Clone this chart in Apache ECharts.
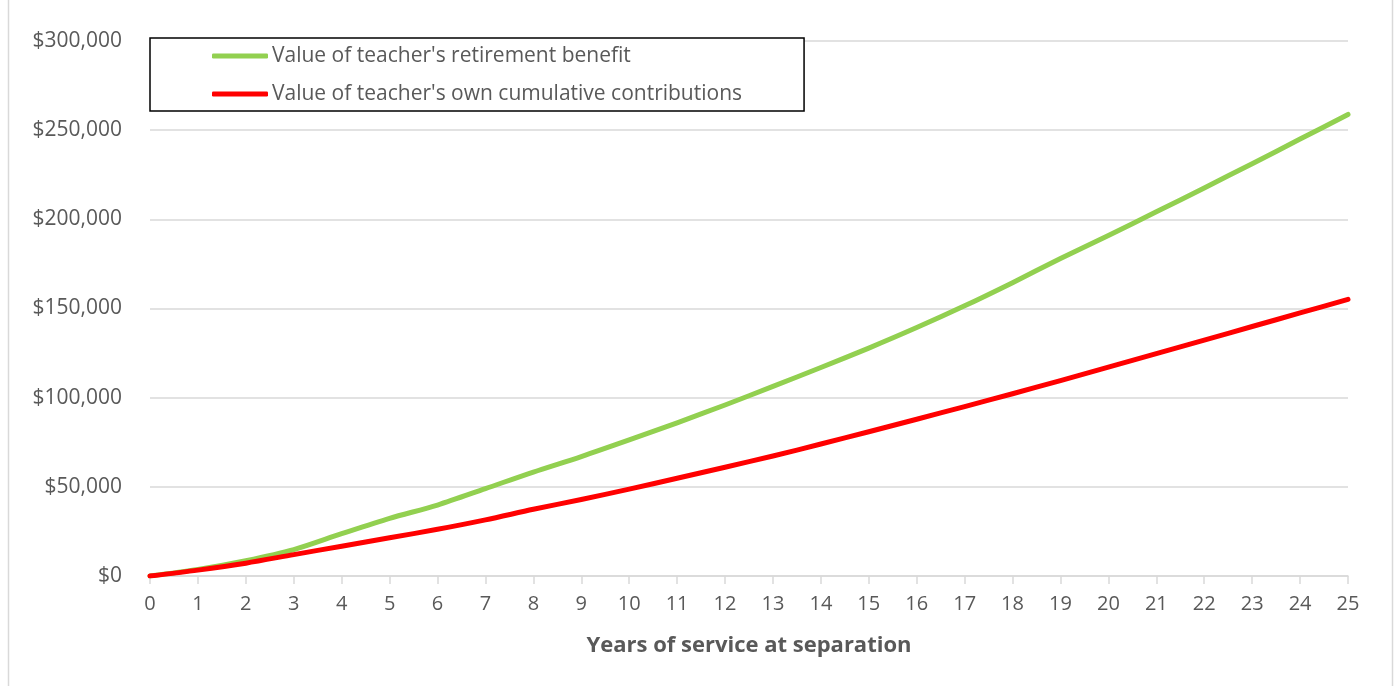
<!DOCTYPE html>
<html>
<head>
    <meta charset="utf-8">
    <title>Teacher retirement benefit</title>
    <script src="https://cdn.jsdelivr.net/npm/echarts@6/dist/echarts.min.js"></script>
    <style>
        html, body { margin: 0; padding: 0; background: #fff; }
    </style>
</head>
<body>
    <div id="container" style="width: 1397px;height:686px;"></div>
    <script type="text/javascript">
        // years of service at separation
        var years = [0, 1, 2, 3, 4, 5, 6, 7, 8, 9, 10, 11, 12, 13, 14, 15, 16, 17, 18, 19, 20, 21, 22, 23, 24, 25];
        // value of retirement benefit (green)
        var benefit = [0, 3700, 8600, 14800, 23700, 32300, 39800, 49000, 58300, 67000, 76300, 85900, 95900,
            106300, 116900, 127800, 139300, 151500, 164500, 178000, 191000, 204200, 217600, 231200, 245000, 258800];
        // value of own cumulative contributions (red)
        var contributions = [0, 3300, 7200, 12000, 16700, 21400, 26200, 31500, 37400, 42900, 48700, 54800, 61000,
            67300, 74000, 80900, 87900, 95000, 102200, 109600, 117100, 124700, 132300, 139900, 147500, 155100];
        var seriesNames = ["Value of teacher's retirement benefit", "Value of teacher's own cumulative contributions"];

        function pairs(vals) {
            return years.map(function (y, i) { return [y, vals[i]]; });
        }

        var myChart = echarts.init(document.getElementById('container'));
        var font = '"Open Sans", "Noto Sans", sans-serif';
        var option = {
            animation: false,
            textStyle: { fontFamily: font },
            // light frame around the chart area
            graphic: [{
                type: 'rect',
                shape: { x: 8.5, y: -5, width: 1384, height: 700 },
                style: { fill: 'none', stroke: '#d9d9d9', lineWidth: 1.5 },
                silent: true
            }],
            grid: { left: 150, right: 49, top: 41, bottom: 110 },
            legend: {
                data: seriesNames,
                orient: 'vertical',
                left: 150,
                top: 38,
                padding: [6, 62, 5, 62],
                itemGap: 14,
                itemWidth: 56,
                itemHeight: 5,
                icon: 'roundRect',
                borderColor: '#000',
                borderWidth: 1.5,
                backgroundColor: '#fff',
                textStyle: { fontSize: 21, color: '#595959', lineHeight: 24, padding: [0, 0, 0, -1] }
            },
            xAxis: {
                type: 'value',
                min: 0,
                max: 25,
                interval: 1,
                name: 'Years of service at separation',
                nameLocation: 'middle',
                nameGap: 59,
                nameTextStyle: { fontSize: 22, fontWeight: 'bold', color: '#595959' },
                axisLine: { show: true, lineStyle: { color: '#d9d9d9', width: 1.5 } },
                axisTick: { show: true, length: 8, lineStyle: { color: '#d9d9d9', width: 1.5 } },
                axisLabel: { fontSize: 20, color: '#595959', margin: 18 },
                splitLine: { show: false }
            },
            yAxis: {
                type: 'value',
                min: 0,
                max: 300000,
                interval: 50000,
                axisLine: { show: false },
                axisTick: { show: false },
                axisLabel: {
                    fontSize: 21,
                    color: '#595959',
                    margin: 28,
                    formatter: function (v) { return '$' + v.toLocaleString('en-US'); }
                },
                splitLine: { lineStyle: { color: '#d9d9d9', width: 1.5 } }
            },
            series: [
                {
                    name: seriesNames[0],
                    type: 'line',
                    data: pairs(benefit),
                    smooth: 0.3,
                    symbol: 'none',
                    color: '#92D050',
                    lineStyle: { width: 5, cap: 'round', join: 'round' }
                },
                {
                    name: seriesNames[1],
                    type: 'line',
                    data: pairs(contributions),
                    smooth: 0.3,
                    symbol: 'none',
                    color: '#FF0000',
                    lineStyle: { width: 5, cap: 'round', join: 'round' }
                }
            ]
        };
        myChart.setOption(option);
    </script>
</body>
</html>
